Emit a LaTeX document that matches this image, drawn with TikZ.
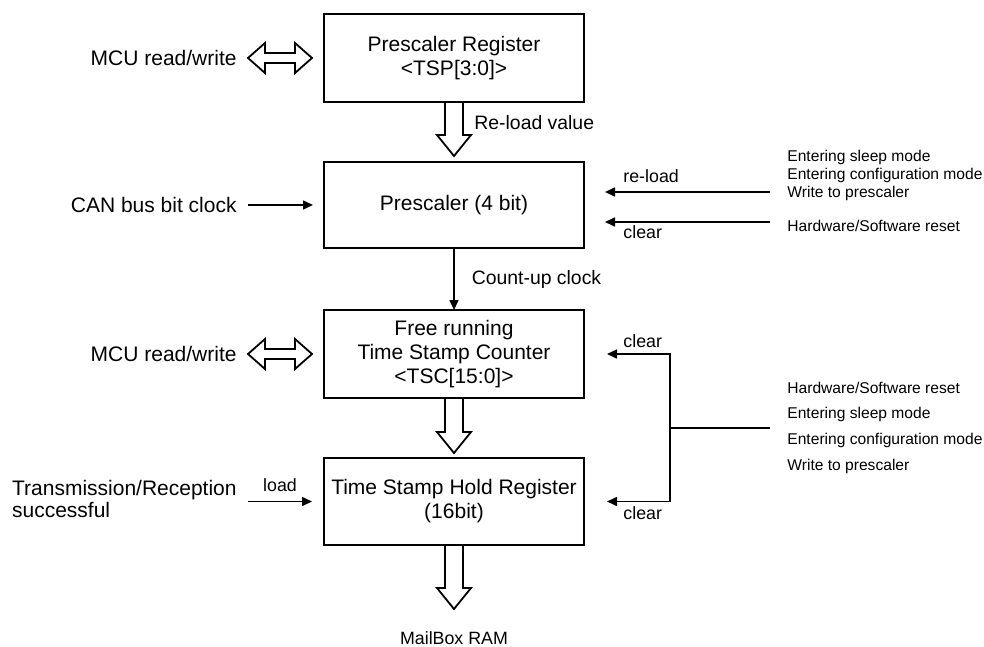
\documentclass[tikz,border=0pt]{standalone}
\usepackage{fontspec}
\setmainfont{Liberation Sans}
\usetikzlibrary{arrows.meta,calc,positioning}

\tikzset{
  blk/.style={draw, line width=1pt, minimum width=130pt, minimum height=44pt,
    align=center, inner sep=0pt, outer sep=0pt, font=\fontsize{10.5}{12}\selectfont},
  sig/.style={line width=0.8pt, line join=miter, -{Triangle[length=5pt,width=4.5pt]}},
  hollow/.style={line width=0.9pt, line join=miter},
  lbl/.style={inner sep=0pt, font=\fontsize{10.5}{11}\selectfont},
  midtxt/.style={inner sep=0pt, font=\fontsize{9.7}{11}\selectfont},
  sigtxt/.style={inner sep=0pt, font=\fontsize{8.9}{10}\selectfont},
  evtxt/.style={inner sep=0pt, align=left, font=\fontsize{7.8}{9}\selectfont},
}

% hollow block arrow pointing down: start #1, tip #2
\newcommand{\hollowdown}[2]{%
  \draw[hollow] ($(#1)+(-9,0)$) -- ($(#2)+(-9,-21)$) -- ($(#2)+(-17,-21)$) -- (#2)
    -- ($(#2)+(17,-21)$) -- ($(#2)+(9,-21)$) -- ($(#1)+(9,0)$);}
% hollow double arrow: left tip #1, right tip #2
\newcommand{\hollowboth}[2]{%
  \draw[hollow] (#1) -- ($(#1)+(17,-15)$) -- ($(#1)+(17,-5)$) -- ($(#2)+(-17,-5)$)
    -- ($(#2)+(-17,-15)$) -- (#2) -- ($(#2)+(-17,15)$) -- ($(#2)+(-17,5)$)
    -- ($(#1)+(17,5)$) -- ($(#1)+(17,15)$) -- cycle;}

\begin{document}
\begin{tikzpicture}[x=0.5pt,y=-0.5pt]
  \useasboundingbox (0,0) rectangle (984,647);
  % register chain
  \node[blk] (preg) at (454,58) {Prescaler Register\\<TSP[3:0]>};
  \node[blk, minimum height=43pt, below=30pt of preg] (psc) {Prescaler (4 bit)};
  \node[blk, below=31pt of psc] (tsc) {Free running\\Time Stamp Counter\\<TSC[15:0]>};
  \node[blk, minimum height=43.5pt, below=30pt of tsc] (hold) {Time Stamp Hold Register\\(16bit)};

  % vertical transfers
  \coordinate (rv) at ($(psc.north)+(0,-6)$);
  \hollowdown{preg.south}{rv}
  \node[midtxt, anchor=west] (rvlab) at ($(preg.south)+(20,21)$) {Re-load value};
  \draw[sig] (psc.south) -- (tsc.north) node[midway, right=8.5pt, midtxt] (cuclk) {Count-up clock};
  \coordinate (th) at ($(hold.north)+(0,-5)$);
  \hollowdown{tsc.south}{th}
  \coordinate (mb) at ($(hold.south)+(0,64)$);
  \hollowdown{hold.south}{mb}
  \node[sigtxt] (mbox) at ($(hold.south)+(0,93)$) {MailBox RAM};

  % left inputs
  \coordinate (m1a) at ($(preg.west)+(-76,0)$);
  \coordinate (m1b) at ($(preg.west)+(-12,0)$);
  \hollowboth{m1a}{m1b}
  \node[lbl, left=5.5pt of m1a] (mcu1) {MCU read/write};
  \coordinate (cka) at ($(psc.west)+(-76,0)$);
  \coordinate (ckb) at ($(psc.west)+(-11,0)$);
  \draw[sig] (cka) -- (ckb);
  \node[lbl, left=5.5pt of cka] (canclk) {CAN bus bit clock};
  \coordinate (m2a) at ($(tsc.west)+(-76,0)$);
  \coordinate (m2b) at ($(tsc.west)+(-12,0)$);
  \hollowboth{m2a}{m2b}
  \node[lbl, left=5.5pt of m2a] (mcu2) {MCU read/write};
  \coordinate (lda) at ($(hold.west)+(-76,0)$);
  \coordinate (ldb) at ($(hold.west)+(-12,0)$);
  \draw[sig] (lda) -- node[sigtxt, above=4.5pt] (ldlab) {load} (ldb);
  \node[lbl, align=left, anchor=east] (txrx) at ($(lda)+(-11,-3)$) {Transmission/Reception\\successful};

  % prescaler control
  \coordinate (rla) at ($(psc.east)+(186,-13)$);
  \coordinate (rlb) at ($(psc.east)+(21,-13)$);
  \draw[sig] (rla) -- (rlb);
  \node[sigtxt, anchor=south west] (rllab) at ($(rlb)+(18,-9)$) {re-load};
  \coordinate (cla) at ($(psc.east)+(186,17)$);
  \coordinate (clb) at ($(psc.east)+(21,17)$);
  \draw[sig] (cla) -- (clb);
  \node[sigtxt, anchor=north west] (cllab) at ($(clb)+(18,3)$) {clear};
  \node[evtxt, anchor=west] (ev1) at ($(rla)+(17,-17)$) {Entering sleep mode\\Entering configuration mode\\Write to prescaler};
  \node[evtxt, anchor=west] (ev2) at ($(cla)+(17,4)$) {Hardware/Software reset};

  % counter / hold clear
  \coordinate (ctin) at ($(tsc.east)+(23,0)$);
  \coordinate (chin) at ($(hold.east)+(23,0)$);
  \coordinate (jn) at ($(tsc.east)!0.5!(hold.east)+(86,0)$);
  \draw[line width=1pt] (jn) -- ++(100,0) coordinate (jr);
  \draw[sig] (jn) |- (ctin);
  \draw[sig] (jn) |- (chin);
  \node[sigtxt, anchor=south west] (c1lab) at ($(ctin)+(16,-6)$) {clear};
  \node[sigtxt, anchor=north west] (c2lab) at ($(chin)+(16,5)$) {clear};
  \node[evtxt, anchor=west, font=\fontsize{7.8}{12.8}\selectfont] (ev3) at ($(jr)+(17,0)$)
    {Hardware/Software reset\\Entering sleep mode\\Entering configuration mode\\Write to prescaler};
\end{tikzpicture}
\end{document}
